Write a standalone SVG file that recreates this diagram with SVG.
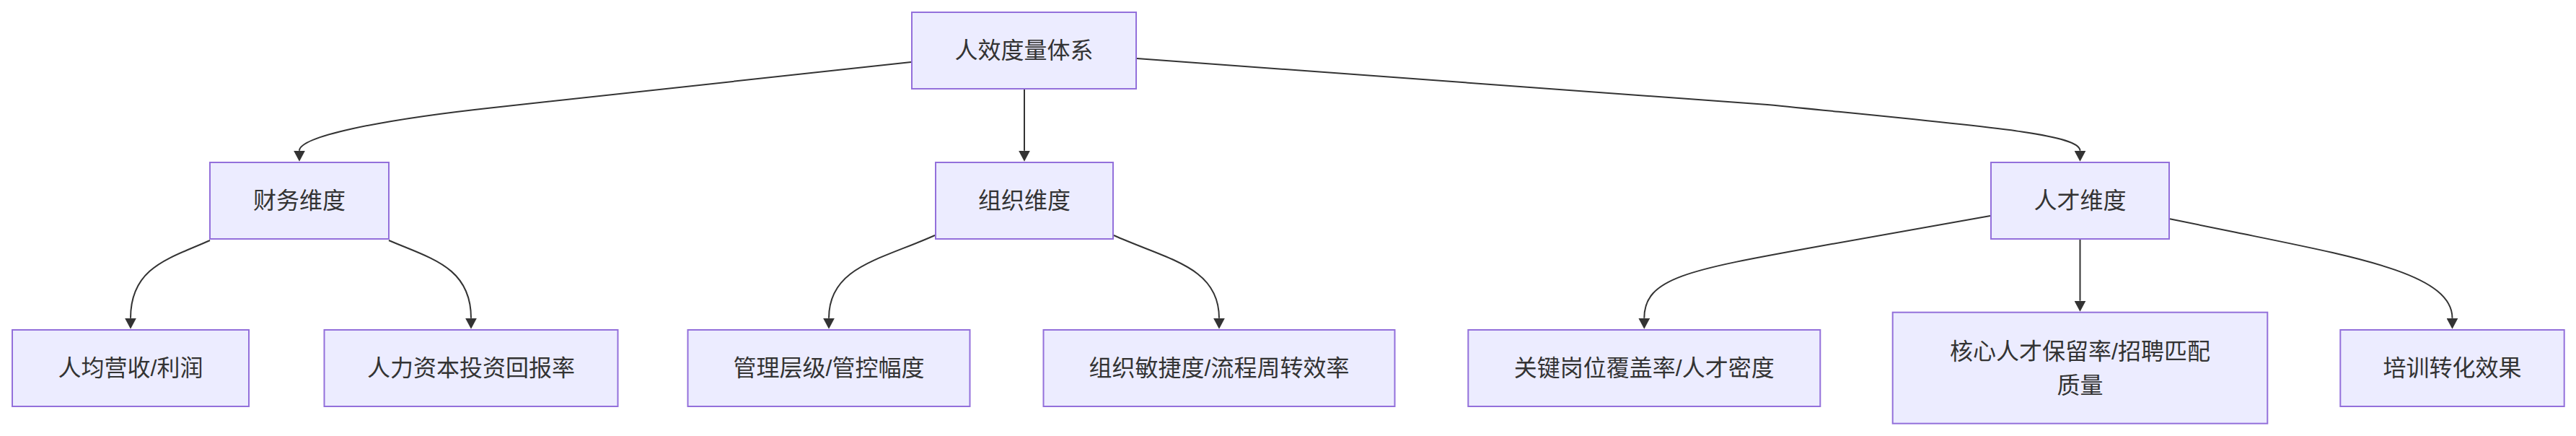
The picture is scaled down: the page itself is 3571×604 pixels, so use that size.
<svg xmlns="http://www.w3.org/2000/svg" width="3571" height="604" viewBox="0 0 3571 604">
<style>
.node rect{fill:#ECECFF;stroke:#9370DB;stroke-width:2}
.node text{font-family:"Liberation Sans","Noto Sans CJK SC",sans-serif;font-size:32px;fill:#333333;text-anchor:middle}
.edges path{fill:none;stroke:#333333;stroke-width:2;marker-end:url(#arrow)}
</style>
<defs>
<marker id="arrow" markerUnits="userSpaceOnUse" markerWidth="15" markerHeight="16" viewBox="0 0 15 16" refX="0" refY="8" orient="auto">
<path d="M0,0 L15,8 L0,16 z" fill="#333333"/>
</marker>
</defs>
<rect width="3571" height="604" fill="#ffffff"/>
<g id="connectors" class="edges">
<path d="M1263,86 L680,149.4 C520,166.8 415,190 415,208.7"/>
<path d="M1420,124 L1420,208.7"/>
<path d="M1576,81 L2450,145 C2750,175 2883.5,185 2883.5,208.7"/>
<path d="M291,333 C235,358 181,370 181,440.7"/>
<path d="M539,333 C597,358 653,370 653,440.7"/>
<path d="M1296,326 C1220,360 1149,370 1149,440.7"/>
<path d="M1544,326 C1620,360 1690,370 1690,440.7"/>
<path d="M2759,299 L2520,341.5 C2340,374 2279.3,385 2279.3,440.7"/>
<path d="M2883.5,332 L2883.5,416.7"/>
<path d="M3008,303.3 L3100,322 C3270,356.7 3399.5,380 3399.5,440.7"/>
</g>
<g id="root" class="node">
<rect x="1264" y="17" width="311" height="106"/>
<text x="1419.5" y="81">人效度量体系</text>
</g>
<g id="finance" class="node">
<rect x="291" y="225" width="248" height="106"/>
<text x="415" y="289">财务维度</text>
</g>
<g id="org" class="node">
<rect x="1297" y="225" width="246" height="106"/>
<text x="1420" y="289">组织维度</text>
</g>
<g id="talent" class="node">
<rect x="2760" y="225" width="247" height="106"/>
<text x="2883.5" y="289">人才维度</text>
</g>
<g id="revenue" class="node">
<rect x="17" y="457" width="328" height="106"/>
<text x="181" y="521">人均营收/利润</text>
</g>
<g id="roi" class="node">
<rect x="449.5" y="457" width="407" height="106"/>
<text x="653" y="521">人力资本投资回报率</text>
</g>
<g id="layers" class="node">
<rect x="953.5" y="457" width="391" height="106"/>
<text x="1149" y="521">管理层级/管控幅度</text>
</g>
<g id="agility" class="node">
<rect x="1446.5" y="457" width="487" height="106"/>
<text x="1690" y="521">组织敏捷度/流程周转效率</text>
</g>
<g id="keypos" class="node">
<rect x="2035.3" y="457" width="488" height="106"/>
<text x="2279.3" y="521">关键岗位覆盖率/人才密度</text>
</g>
<g id="core" class="node">
<rect x="2623.7" y="432.7" width="519.6" height="154"/>
<text x="2883.5" y="497.7">核心人才保留率/招聘匹配</text>
<text x="2883.5" y="545">质量</text>
</g>
<g id="training" class="node">
<rect x="3244.3" y="457" width="310.4" height="106"/>
<text x="3399.5" y="521">培训转化效果</text>
</g>
</svg>
